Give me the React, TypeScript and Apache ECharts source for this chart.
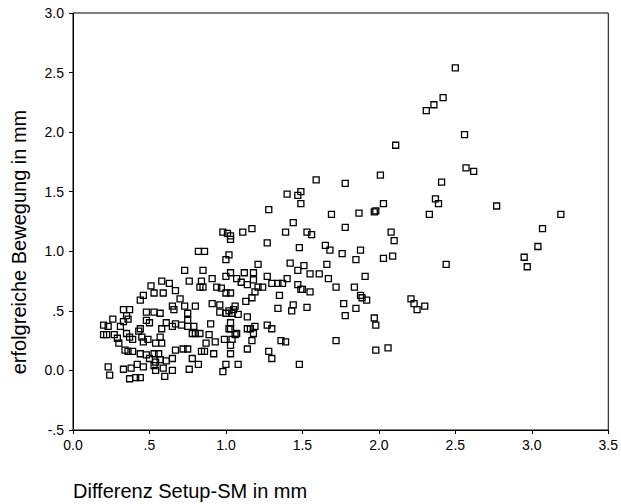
import React, { useEffect, useRef } from "react";
import * as echarts from "echarts";

// Tick labels (SPSS style) and axis titles
const xTickLabels = ["0.0", ".5", "1.0", "1.5", "2.0", "2.5", "3.0", "3.5"];
const yTickLabels = ["-.5", "0.0", ".5", "1.0", "1.5", "2.0", "2.5", "3.0"];
const xAxisTitle = "Differenz Setup-SM in mm";
const yAxisTitle = "erfolgreiche Bewegung in mm";

// [Differenz Setup-SM, erfolgreiche Bewegung] in mm
const pointsLowDiff: [number, number][] = [
  [0.46, 0.63], [0.44, 0.59], [0.53, 0.65], [0.59, 0.65], [0.67, 0.67], [0.70, 0.60],
  [0.65, 0.54], [0.73, 0.54], [0.80, 0.54], [0.66, 0.51], [0.75, 0.48], [0.33, 0.51],
  [0.37, 0.51], [0.48, 0.49], [0.53, 0.49], [0.57, 0.48], [0.26, 0.43], [0.35, 0.46],
  [0.33, 0.41], [0.36, 0.43], [0.48, 0.42], [0.50, 0.40], [0.20, 0.38], [0.23, 0.37],
  [0.31, 0.37], [0.44, 0.35], [0.43, 0.33], [0.58, 0.35], [0.61, 0.40], [0.65, 0.37],
  [0.67, 0.39], [0.71, 0.38], [0.75, 0.42], [0.75, 0.37], [0.79, 0.37], [0.20, 0.30],
  [0.22, 0.30], [0.27, 0.30], [0.29, 0.27], [0.35, 0.31], [0.37, 0.28], [0.45, 0.28],
  [0.39, 0.26], [0.46, 0.24], [0.49, 0.26], [0.57, 0.28], [0.54, 0.23], [0.58, 0.23],
  [0.78, 0.31], [0.80, 0.31], [0.30, 0.23], [0.34, 0.17], [0.36, 0.16], [0.39, 0.16],
  [0.44, 0.14], [0.48, 0.13], [0.53, 0.14], [0.56, 0.14], [0.50, 0.10], [0.54, 0.07],
  [0.57, 0.09], [0.61, 0.08], [0.65, 0.10], [0.67, 0.17], [0.72, 0.18], [0.75, 0.18],
  [0.78, 0.10], [0.23, 0.03], [0.24, -0.04], [0.33, 0.01], [0.38, 0.02], [0.42, 0.05],
  [0.46, 0.03], [0.53, 0.04], [0.54, 0.0], [0.59, 0.02], [0.65, 0.0], [0.60, -0.05],
  [0.37, -0.07], [0.41, -0.06], [0.44, -0.06], [0.76, 0.01],
  [0.82, 1.0], [0.73, 0.84], [0.76, 0.75], [0.58, 0.75], [0.63, 0.73], [0.51, 0.71],
];

const pointsMidDiff: [number, number][] = [
  [1.0, 0.65], [1.03, 0.65], [1.19, 0.66], [1.17, 0.61], [1.13, 0.58], [1.35, 0.63],
  [0.91, 0.56], [0.96, 0.55], [1.06, 0.54], [1.05, 0.51], [1.02, 0.50], [0.96, 0.49],
  [1.0, 0.48], [1.04, 0.48], [1.08, 0.47], [1.14, 0.45], [1.34, 0.52], [1.44, 0.55],
  [1.43, 0.50], [0.90, 0.39], [1.03, 0.40], [1.02, 0.35], [1.03, 0.35], [1.06, 0.30],
  [1.07, 0.31], [1.14, 0.35], [1.16, 0.35], [1.19, 0.37], [1.18, 0.31], [1.27, 0.38],
  [1.30, 0.35], [0.83, 0.31], [0.89, 0.30], [0.87, 0.23], [0.93, 0.24], [0.99, 0.26],
  [1.04, 0.26], [1.03, 0.21], [1.17, 0.25], [1.36, 0.25], [1.39, 0.24], [0.84, 0.16],
  [0.86, 0.16], [0.92, 0.14], [1.03, 0.14], [1.14, 0.18], [1.28, 0.16], [1.30, 0.10],
  [0.82, 0.05], [1.0, 0.05], [1.08, 0.05], [0.98, -0.01], [1.48, 0.05],
  [1.40, 1.48], [1.47, 1.47], [1.49, 1.50], [1.49, 1.40], [1.28, 1.35], [1.44, 1.24],
  [0.98, 1.16], [1.01, 1.15], [1.03, 1.13], [1.03, 1.10], [1.11, 1.16], [1.17, 1.19],
  [1.39, 1.16], [1.27, 1.07], [1.48, 1.03], [0.86, 1.0], [1.02, 0.97], [1.0, 0.93],
  [1.21, 0.89], [1.42, 0.90], [1.47, 0.84], [1.51, 0.88], [0.85, 0.84], [0.91, 0.77],
  [1.0, 0.79], [1.03, 0.82], [1.07, 0.77], [1.10, 0.74], [1.12, 0.82], [1.18, 0.82],
  [1.14, 0.72], [1.18, 0.76], [1.21, 0.70], [1.24, 0.70], [1.27, 0.79], [1.30, 0.73],
  [1.34, 0.73], [1.37, 0.73], [1.40, 0.77], [1.47, 0.72], [1.49, 0.68], [1.50, 0.68],
  [0.84, 0.75], [0.83, 0.70], [0.85, 0.70], [0.94, 0.70], [0.97, 0.69],
];

const pointsHighDiff: [number, number][] = [
  [1.59, 1.60], [1.78, 1.57], [2.01, 1.64], [1.69, 1.31], [1.87, 1.32], [1.97, 1.33],
  [1.98, 1.34], [2.03, 1.40], [1.78, 1.20], [1.53, 1.16], [1.56, 1.14], [2.08, 1.16],
  [2.10, 1.09], [1.65, 1.05], [1.68, 1.01], [1.76, 0.98], [1.88, 1.01], [1.85, 0.93],
  [2.03, 0.94], [2.09, 0.96], [1.55, 0.81], [1.61, 0.81], [1.66, 0.89], [1.67, 0.77],
  [1.91, 0.79], [1.72, 0.70], [1.84, 0.70], [1.55, 0.66], [1.88, 0.63], [1.89, 0.61],
  [1.92, 0.59], [1.77, 0.56], [1.85, 0.52], [1.53, 0.53], [1.78, 0.46], [1.97, 0.44],
  [1.98, 0.38], [1.72, 0.25], [1.98, 0.17], [2.06, 0.19],
  [2.50, 2.54], [2.42, 2.29], [2.36, 2.23], [2.31, 2.18], [2.56, 1.98], [2.11, 1.89],
  [2.57, 1.70], [2.62, 1.67], [2.41, 1.58], [2.37, 1.44], [2.39, 1.40], [2.77, 1.38],
  [2.33, 1.31], [3.19, 1.31], [3.07, 1.19], [3.04, 1.04], [2.95, 0.95], [2.97, 0.87],
  [2.44, 0.89], [2.21, 0.60], [2.23, 0.56], [2.25, 0.51], [2.30, 0.54],
];

const FONT = "'Liberation Sans', Arial, Helvetica, sans-serif";

export default function App() {
  const ref = useRef<HTMLDivElement>(null);

  useEffect(() => {
    if (!ref.current) return;
    const chart = echarts.init(ref.current, null, { renderer: "svg" });
    const allPoints = [...pointsLowDiff, ...pointsMidDiff, ...pointsHighDiff];

    chart.setOption({
      animation: false,
      backgroundColor: "#fff",
      grid: {
        left: 73,
        top: 13,
        right: 12,
        bottom: 74,
        show: true,
        borderColor: "#000",
        borderWidth: 1,
        backgroundColor: "transparent",
        containLabel: false,
      },
      xAxis: {
        type: "value",
        min: 0,
        max: 3.5,
        interval: 0.5,
        axisLine: { show: true, onZero: false, lineStyle: { color: "#000", width: 1 } },
        axisTick: { show: true, inside: false, length: 4, lineStyle: { color: "#000" } },
        splitLine: { show: false },
        axisLabel: {
          show: true,
          margin: 8,
          color: "#000",
          fontSize: 14,
          fontFamily: FONT,
          showMinLabel: true,
          showMaxLabel: true,
          formatter: (v: number) => xTickLabels[Math.round(v / 0.5)] ?? "",
        },
      },
      yAxis: {
        type: "value",
        min: -0.5,
        max: 3.0,
        interval: 0.5,
        axisLine: { show: true, onZero: false, lineStyle: { color: "#000", width: 1 } },
        axisTick: { show: true, inside: false, length: 4, lineStyle: { color: "#000" } },
        splitLine: { show: false },
        axisLabel: {
          show: true,
          margin: 9,
          color: "#000",
          fontSize: 14,
          fontFamily: FONT,
          showMinLabel: true,
          showMaxLabel: true,
          formatter: (v: number) => yTickLabels[Math.round((v + 0.5) / 0.5)] ?? "",
        },
      },
      graphic: [
        {
          type: "text",
          x: 73,
          y: 491,
          style: {
            text: xAxisTitle,
            fill: "#000",
            font: `20px ${FONT}`,
            textAlign: "left",
            textVerticalAlign: "middle",
          },
        },
        {
          type: "text",
          x: 19,
          y: 242,
          rotation: Math.PI / 2,
          style: {
            text: yAxisTitle,
            fill: "#000",
            font: `20px ${FONT}`,
            textAlign: "center",
            textVerticalAlign: "middle",
          },
        },
      ],
      series: [
        {
          type: "scatter",
          data: allPoints,
          symbol: "rect",
          symbolSize: 6,
          itemStyle: {
            color: "rgba(0,0,0,0)",
            borderColor: "#000",
            borderWidth: 1.3,
            opacity: 1,
          },
          emphasis: { disabled: true },
        },
      ],
    });

    return () => chart.dispose();
  }, []);

  return (
    <div
      ref={ref}
      style={{ position: "fixed", left: 0, top: 0, width: 621, height: 504 }}
    />
  );
}
